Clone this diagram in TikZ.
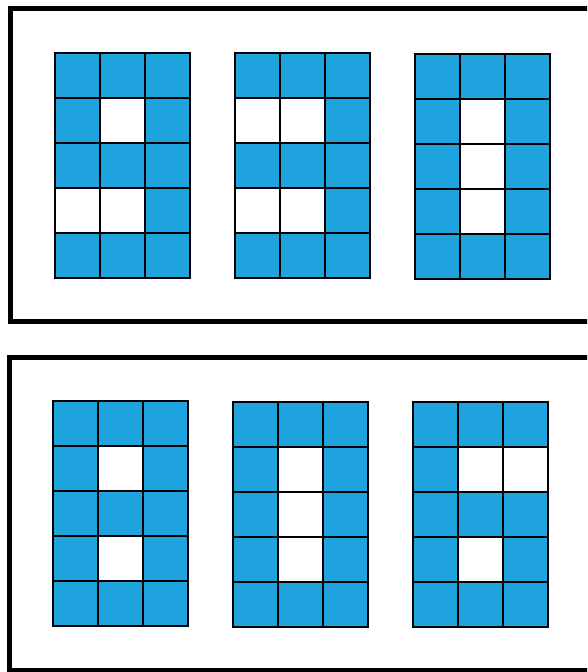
\documentclass[tikz,border=0pt]{standalone}
\usepackage{tikz}
\usetikzlibrary{calc}
\usepackage{xcolor}
\definecolor{colCase}{RGB}{32,164,224}

% Grille 3x5 : #1,#2 = coin haut gauche, #3 = cases blanches (colonne/ligne)
\newcommand{\grilleChiffre}[3]{%
  \begin{scope}[shift={(#1,#2)}]
    \fill[case] (0,0) rectangle (135,225);
    \foreach \col/\lig in {#3}
      \fill[trou] ({45*(\col-1)},{45*(\lig-1)}) rectangle ++(45,45);
    \foreach \i in {1,2}
      \draw[trait] ({45*\i},0) -- ({45*\i},225);
    \foreach \j in {1,...,4}
      \draw[trait] (0,{45*\j}) -- (135,{45*\j});
    \draw[trait] (0,0) rectangle (135,225);
  \end{scope}}

\begin{document}
\begin{tikzpicture}[
  x=1pt, y=-1pt,
  cadre/.style={draw=black, line width=5pt},
  case/.style={fill=colCase},
  trou/.style={fill=white},
  trait/.style={draw=black, line width=2pt, line cap=rect}
]

% ---------- Cadre de l'image ----------
\useasboundingbox (0,0) rectangle (587,672);
\clip (0,0) rectangle (587,672);

% ---------- Panneau du haut ----------
\draw[cadre] (10,8.5) rectangle (600,321);
\grilleChiffre{55}{53}{2/2, 1/4, 2/4}
\grilleChiffre{235}{53}{1/2, 2/2, 1/4, 2/4}
\grilleChiffre{415}{54}{2/2, 2/3, 2/4}

% ---------- Panneau du bas ----------
\draw[cadre] (9.5,357.5) rectangle (600,670);
\grilleChiffre{53}{401}{2/2, 2/4}
\grilleChiffre{233}{402}{2/2, 2/3, 2/4}
\grilleChiffre{413}{402}{2/2, 3/2, 2/4}

\end{tikzpicture}
\end{document}
